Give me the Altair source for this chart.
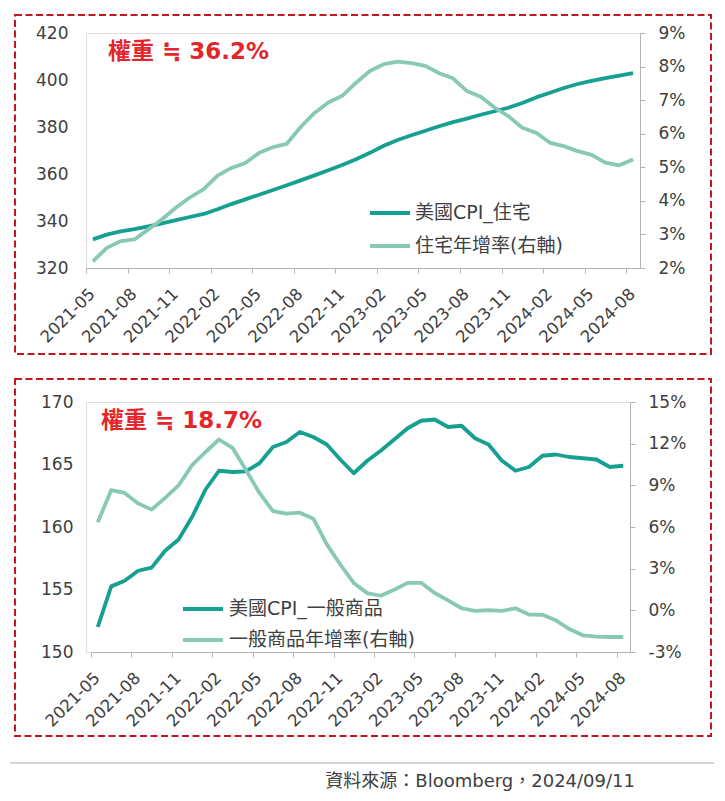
import altair as alt
import pandas as pd

# ---------------- data ----------------
months = [
    "2021-05", "2021-06", "2021-07", "2021-08", "2021-09", "2021-10", "2021-11", "2021-12",
    "2022-01", "2022-02", "2022-03", "2022-04", "2022-05", "2022-06", "2022-07", "2022-08",
    "2022-09", "2022-10", "2022-11", "2022-12", "2023-01", "2023-02", "2023-03", "2023-04",
    "2023-05", "2023-06", "2023-07", "2023-08", "2023-09", "2023-10", "2023-11", "2023-12",
    "2024-01", "2024-02", "2024-03", "2024-04", "2024-05", "2024-06", "2024-07", "2024-08",
]
tick_months = [
    "2021-05", "2021-08", "2021-11", "2022-02", "2022-05", "2022-08", "2022-11",
    "2023-02", "2023-05", "2023-08", "2023-11", "2024-02", "2024-05", "2024-08",
]

# 美國CPI_住宅 (left axis)
shelter_index = [
    332.2, 334.2, 335.6, 336.5, 337.7, 339.0, 340.4, 341.7, 343.0, 345.0,
    347.2, 349.2, 351.2, 353.2, 355.2, 357.3, 359.4, 361.6, 363.8, 366.3,
    369.0, 372.0, 374.5, 376.5, 378.4, 380.3, 382.1, 383.6, 385.2, 386.7,
    388.2, 390.2, 392.6, 394.6, 396.6, 398.3, 399.6, 400.8, 401.9, 402.9,
]
# 住宅年增率 (right axis, %)
shelter_yoy = [
    2.2, 2.6, 2.8, 2.85, 3.15, 3.45, 3.8, 4.1, 4.35, 4.75,
    4.98, 5.13, 5.43, 5.6, 5.7, 6.2, 6.62, 6.93, 7.13, 7.52,
    7.87, 8.07, 8.15, 8.1, 8.02, 7.8, 7.65, 7.27, 7.1, 6.78,
    6.52, 6.18, 6.03, 5.73, 5.63, 5.48, 5.37, 5.14, 5.06, 5.23,
]
# 美國CPI_一般商品 (left axis)
goods_index = [
    152.0, 155.25, 155.7, 156.5, 156.75, 158.1, 159.0, 160.8, 163.0, 164.5,
    164.4, 164.45, 165.1, 166.4, 166.8, 167.6, 167.2, 166.6, 165.4, 164.3,
    165.3, 166.1, 167.0, 167.9, 168.5, 168.6, 168.0, 168.1, 167.1, 166.6,
    165.3, 164.5, 164.8, 165.7, 165.8, 165.6, 165.5, 165.4, 164.8, 164.9,
]
# 一般商品年增率 (right axis, %)
goods_yoy = [
    6.35, 8.65, 8.45, 7.7, 7.25, 8.1, 9.0, 10.45, 11.4, 12.3,
    11.7, 10.1, 8.45, 7.15, 6.96, 7.03, 6.6, 4.75, 3.3, 1.97,
    1.24, 1.05, 1.48, 1.98, 1.98, 1.25, 0.72, 0.15, -0.04, 0.02,
    -0.04, 0.15, -0.3, -0.32, -0.72, -1.35, -1.8, -1.9, -1.92, -1.92,
]

shelter_names = ["美國CPI_住宅", "住宅年增率(右軸)"]
goods_names = ["美國CPI_一般商品", "一般商品年增率(右軸)"]
shelter_left_ticks = [320, 340, 360, 380, 400, 420]
shelter_right_ticks = [2, 3, 4, 5, 6, 7, 8, 9]
goods_left_ticks = [150, 155, 160, 165, 170]
goods_right_ticks = [-3, 0, 3, 6, 9, 12, 15]
shelter_title = "權重 ≒ 36.2%"
goods_title = "權重 ≒ 18.7%"
footer_text = "資料來源：Bloomberg，2024/09/11"

# ---------------- style ----------------
FONT = "DejaVu Sans, Noto Sans CJK TC, sans-serif"
TEAL = "#15A092"
LIGHT = "#88C9B5"
RED = "#E3262B"
BORDER = "#C5161D"
TEXT = "#404040"
AXIS_GRAY = "#B3B3B3"


def panel(index_vals, yoy_vals, names, ldom, lticks, rdom, rticks, title,
          width, height, xrange, title_xy, legend_xy, rowpad, label_off,
          left_pad, border_y, extras=()):
    df = pd.DataFrame({
        "month": months,
        "idx": index_vals,
        "rate": yoy_vals,
        "s1": names[0],
        "s2": names[1],
    })
    step = (xrange[1] - xrange[0]) / len(months)
    xscale = alt.Scale(type="point", padding=0.5, range=list(xrange))
    xaxis = alt.Axis(
        values=tick_months, title=None, labelAngle=315, labelAlign="right",
        labelBaseline="middle", labelFontSize=16.5, labelFont=FONT, labelColor=TEXT,
        labelPadding=18, labelOffset=6, tickOffset=-step / 2, tickSize=5,
        tickColor=AXIS_GRAY, domainColor=AXIS_GRAY, grid=False, labelOverlap=False,
    )
    cscale = alt.Scale(domain=names, range=[TEAL, LIGHT])
    legend = alt.Legend(
        title=None, orient="none", legendX=legend_xy[0], legendY=legend_xy[1],
        direction="vertical", symbolType="stroke", symbolSize=1600,
        symbolStrokeWidth=4, labelFontSize=19, labelFont=FONT, labelColor=TEXT,
        labelLimit=400, rowPadding=rowpad, labelOffset=label_off, padding=0,
        clipHeight=20,
    )
    base = alt.Chart(df).encode(x=alt.X("month:O", sort=months, scale=xscale, axis=xaxis))
    line1 = base.mark_line(strokeWidth=3.8, strokeJoin="round").encode(
        y=alt.Y("idx:Q", scale=alt.Scale(domain=ldom, nice=False, zero=False),
                axis=alt.Axis(orient="left", values=lticks, title=None, domain=False,
                              ticks=False, grid=False, labelPadding=left_pad,
                              labelFontSize=17, labelFont=FONT, labelColor=TEXT)),
        color=alt.Color("s1:N", scale=cscale, legend=legend),
    )
    line2 = base.mark_line(strokeWidth=3.8, strokeJoin="round").encode(
        y=alt.Y("rate:Q", scale=alt.Scale(domain=rdom, nice=False, zero=False),
                axis=alt.Axis(orient="right", values=rticks, title=None, domain=True,
                              domainColor=AXIS_GRAY, ticks=True, tickColor=AXIS_GRAY,
                              tickSize=5, grid=False, labelPadding=13,
                              labelFontSize=17, labelFont=FONT, labelColor=TEXT,
                              labelExpr="datum.value + '%'")),
        color=alt.Color("s2:N", scale=cscale, legend=legend),
    )
    title_layer = alt.Chart(pd.DataFrame({"t": [title]})).mark_text(
        align="left", baseline="middle", fontSize=23, fontWeight="bold",
        color=RED, font=FONT,
    ).encode(text="t:N", x=alt.value(title_xy[0]), y=alt.value(title_xy[1]))
    border = alt.Chart(pd.DataFrame({"b": [0]})).mark_rect(
        fillOpacity=0, stroke=BORDER, strokeWidth=2, strokeDash=[7, 3.5],
    ).encode(x=alt.value(-71), x2=alt.value(625), y=alt.value(border_y[0]),
             y2=alt.value(border_y[1]))
    return alt.layer(line1, line2, title_layer, border, *extras).resolve_scale(
        y="independent").properties(width=width, height=height)


separator = alt.Chart(pd.DataFrame({"s": [0]})).mark_rule(
    color="#C8C8C8", strokeWidth=1.5,
).encode(x=alt.value(-76), x2=alt.value(628), y=alt.value(361))
footer = alt.Chart(pd.DataFrame({"t": [footer_text]})).mark_text(
    align="right", baseline="alphabetic", fontSize=18, color=TEXT, font=FONT,
).encode(text="t:N", x=alt.value(549), y=alt.value(385))

top = panel(shelter_index, shelter_yoy, shelter_names, [320, 420], shelter_left_ticks,
            [2, 9], shelter_right_ticks, shelter_title, 554, 235, (0, 554),
            (22, 19), (282, 170), 13, 3, 18, (-18, 321))
bottom = panel(goods_index, goods_yoy, goods_names, [150, 170], goods_left_ticks,
               [-3, 15], goods_right_ticks, goods_title, 544, 250, (5, 544),
               (15, 19), (95, 197), 11, 4, 13, (-23, 334), extras=(separator, footer))

chart = alt.vconcat(top, bottom, spacing=134, bounds="flush").resolve_scale(
    color="independent"
).properties(
    padding={"left": 0, "top": 5, "right": 0, "bottom": 0},
    background="white",
).configure_view(strokeWidth=0).configure(font=FONT)

chart.save("out.html", embed_options={"renderer": "svg", "actions": False})
